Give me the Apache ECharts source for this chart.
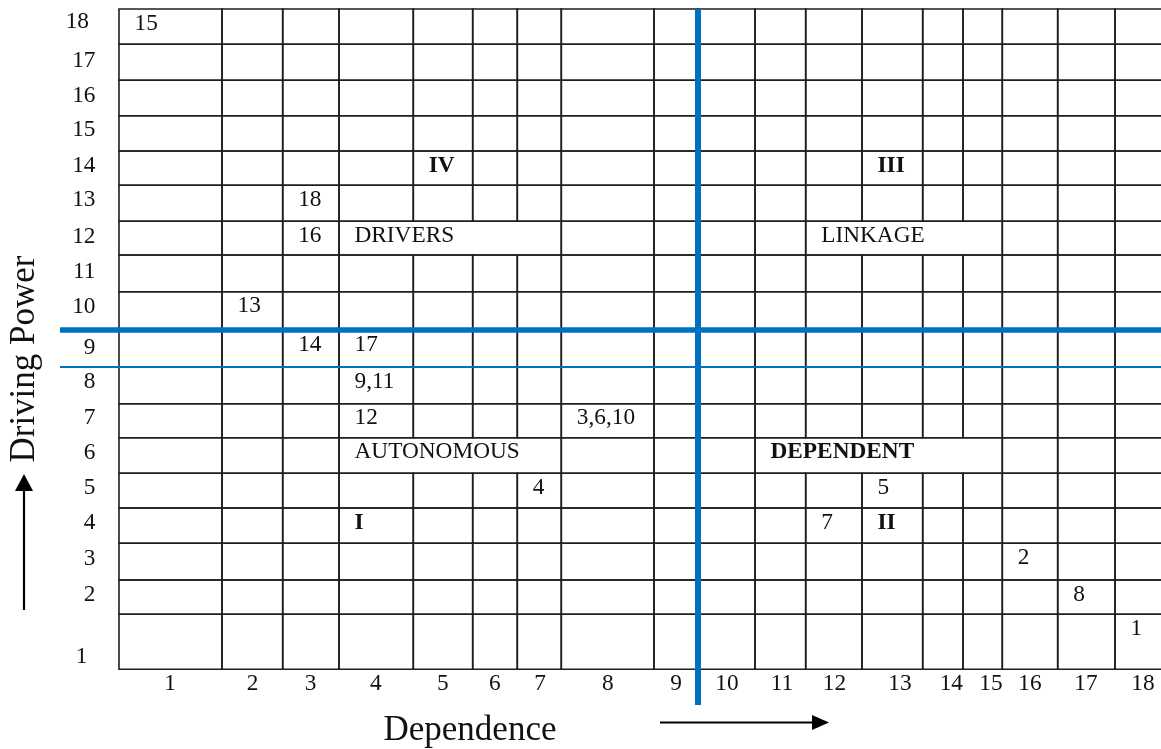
<!DOCTYPE html>
<html><head><meta charset="utf-8">
<script src="https://cdn.jsdelivr.net/npm/echarts@6/dist/echarts.min.js"></script>
<style>html,body{margin:0;padding:0;background:#fff}#c{width:1161px;height:749px}</style>
</head><body><div id="c"></div>
<script>
// ---------------- DATA ----------------
const dependenceTicks = ['1','2','3','4','5','6','7','8','9','10','11','12','13','14','15','16','17','18'];
const drivingTicks    = ['1','2','3','4','5','6','7','8','9','10','11','12','13','14','15','16','17','18'];

const variableLabels     = ['15','18','16','13','14','17','9,11','12','3,6,10','4','5','7','2','8','1'];
const variableDependence = [1, 3, 3, 2, 3, 4, 4, 4, 8, 7, 13, 12, 16, 17, 18];
const variableDriving    = [18, 13, 12, 10, 9, 9, 8, 7, 7, 5, 5, 4, 3, 2, 1];

const quadrantLabels     = ['IV', 'III', 'I', 'II'];
const quadrantDependence = [5, 13, 4, 13];
const quadrantDriving    = [14, 14, 4, 4];

const clusterLabels         = ['DRIVERS', 'LINKAGE', 'AUTONOMOUS', 'DEPENDENT'];
const clusterFromDependence = [4, 12, 4, 11];
const clusterToDependence   = [7, 15, 7, 15];
const clusterDriving        = [12, 12, 6, 6];

const dependenceThreshold = 9;
const drivingThreshold = 9;

const xTitle = 'Dependence';
const yTitle = 'Driving Power';

// ---------------- LAYOUT (pixels) ----------------
const COL_EDGES = [119, 222, 282.7, 339, 413.3, 472.7, 517.3, 561.3, 654, 698, 755, 805.7, 862, 922.7, 963, 1002.3, 1057.7, 1115, 1185];
const ROW_EDGES = [669.3, 614.3, 580, 543.3, 508, 473.3, 437.7, 403.7, 367, 330, 291.7, 255, 221.3, 185.3, 151, 115.7, 80.3, 44.3, 9];
const X_TICK_POS = [170, 252.5, 310.5, 375.8, 442.8, 494.7, 540, 607.8, 676, 727, 782, 834.5, 900, 951.3, 991, 1030, 1086, 1143];
const Y_TICK_POS = [656.7, 595, 559, 522.7, 488, 453, 418, 381.7, 348.3, 306.7, 271.7, 236.7, 200, 165.7, 130, 96, 60.7, 22];
const T_LEFT = 119, T_TOP = 9, T_W = 1042, T_H = 660.3;
const CELL_PAD_X = 15.5, CELL_PAD_Y = 14.5;
const DIVIDER_LEFT = 60, DIVIDER_BOTTOM = 705;
const FONT = 'Liberation Serif, Times New Roman, serif';
const FS = 23.3, TITLE_FS = 35;
const LINE = '#1e1e1e', BLUE = '#0070C0', TXT = '#111';

const xv = px => px - T_LEFT;
const yv = px => px - T_TOP;

// cells (merged ones from clusters)
const cells = [];
for (let r = 1; r <= 18; r++) {
  let c = 1;
  while (c <= 18) {
    let k = -1;
    for (let i = 0; i < clusterLabels.length; i++) {
      if (clusterDriving[i] === r && clusterFromDependence[i] === c) k = i;
    }
    if (k >= 0) { cells.push([c, clusterToDependence[k], r]); c = clusterToDependence[k] + 1; }
    else { cells.push([c, c, r]); c++; }
  }
}

const texts = [];
variableLabels.forEach((t, i) => texts.push([variableDependence[i], variableDriving[i], t, 'normal']));
quadrantLabels.forEach((t, i) => texts.push([quadrantDependence[i], quadrantDriving[i], t, 'bold']));
clusterLabels.forEach((t, i) => texts.push([clusterFromDependence[i], clusterDriving[i], t, i === 3 ? 'bold' : 'normal']));

function nearestIndex(arr, v) {
  let best = 0, d = Infinity;
  arr.forEach((a, i) => { const dd = Math.abs(a - v); if (dd < d) { d = dd; best = i; } });
  return best;
}

const chart = echarts.init(document.getElementById('c'), null, {renderer: 'canvas'});
chart.setOption({
  backgroundColor: '#fff',
  animation: false,
  grid: {left: T_LEFT, top: T_TOP, width: T_W, height: T_H},
  xAxis: {
    type: 'value', min: 0, max: T_W,
    axisLine: {show: false}, axisTick: {show: false}, splitLine: {show: false},
    axisLabel: {
      customValues: X_TICK_POS.map(xv),
      margin: 14.7, verticalAlign: 'middle',
      fontFamily: FONT, fontSize: FS, color: TXT,
      formatter: v => dependenceTicks[nearestIndex(X_TICK_POS.map(xv), v)]
    }
  },
  yAxis: {
    type: 'value', min: 0, max: T_H, inverse: true,
    axisLine: {show: false}, axisTick: {show: false}, splitLine: {show: false},
    axisLabel: {
      customValues: Y_TICK_POS.map(yv),
      margin: 23.5, align: 'right', verticalAlign: 'middle',
      fontFamily: FONT, fontSize: FS, color: TXT,
      formatter: v => {
        const i = nearestIndex(Y_TICK_POS.map(yv), v);
        const t = drivingTicks[i];
        if (t === '18') return '{a|' + t + '}';
        if (t === '1') return '{b|' + t + '}';
        return t;
      },
      rich: {
        a: {fontFamily: FONT, fontSize: FS, color: TXT, padding: [0, 6.5, 0, 0]},
        b: {fontFamily: FONT, fontSize: FS, color: TXT, padding: [0, 8, 0, 0]}
      }
    }
  },
  series: [
    {
      type: 'custom', name: 'cells', silent: true, clip: false, z: 1,
      data: cells,
      renderItem: (params, api) => {
        const c0 = api.value(0), c1 = api.value(1), r = api.value(2);
        const p0 = api.coord([xv(COL_EDGES[c0 - 1]), yv(ROW_EDGES[r])]);
        const p1 = api.coord([xv(COL_EDGES[c1]), yv(ROW_EDGES[r - 1])]);
        return {type: 'rect', shape: {x: p0[0], y: p0[1], width: p1[0] - p0[0], height: p1[1] - p0[1]},
                style: {fill: null, stroke: LINE, lineWidth: 1.6}};
      }
    },
    {
      type: 'custom', name: 'dividers', silent: true, clip: false, z: 2,
      data: [[dependenceThreshold, drivingThreshold]],
      renderItem: (params, api) => {
        const dx = COL_EDGES[api.value(0)];
        const hy = ROW_EDGES[api.value(1)];
        const hy2 = ROW_EDGES[api.value(1) - 1];
        const v1 = api.coord([xv(dx), yv(T_TOP)]), v2 = api.coord([xv(dx), yv(DIVIDER_BOTTOM)]);
        const h1 = api.coord([xv(DIVIDER_LEFT), yv(hy)]), h2 = api.coord([xv(1200), yv(hy)]);
        const t1 = api.coord([xv(DIVIDER_LEFT), yv(hy2)]), t2 = api.coord([xv(1200), yv(hy2)]);
        return {type: 'group', children: [
          {type: 'line', shape: {x1: t1[0], y1: t1[1], x2: t2[0], y2: t2[1]}, style: {stroke: BLUE, lineWidth: 1.8}},
          {type: 'line', shape: {x1: h1[0], y1: h1[1], x2: h2[0], y2: h2[1]}, style: {stroke: BLUE, lineWidth: 5.5}},
          {type: 'line', shape: {x1: v1[0], y1: v1[1], x2: v2[0], y2: v2[1]}, style: {stroke: BLUE, lineWidth: 6}}
        ]};
      }
    },
    {
      type: 'custom', name: 'labels', silent: true, clip: false, z: 3,
      data: texts,
      renderItem: (params, api) => {
        const d = texts[params.dataIndex];
        const p = api.coord([xv(COL_EDGES[d[0] - 1] + CELL_PAD_X), yv(ROW_EDGES[d[1]] + CELL_PAD_Y)]);
        return {type: 'text', x: p[0], y: p[1],
                style: {text: d[2], fill: TXT, fontFamily: FONT, fontSize: FS, fontWeight: d[3],
                        align: 'left', verticalAlign: 'middle'}};
      }
    }
  ],
  graphic: [
    {type: 'text', x: 470, y: 731, style: {text: xTitle, fill: TXT, fontFamily: FONT, fontSize: TITLE_FS, align: 'center', verticalAlign: 'middle'}},
    {type: 'text', x: 24.5, y: 359, rotation: Math.PI / 2, style: {text: yTitle, fill: TXT, fontFamily: FONT, fontSize: TITLE_FS, align: 'center', verticalAlign: 'middle'}},
    {type: 'line', shape: {x1: 24, y1: 610, x2: 24, y2: 489}, style: {stroke: '#000', lineWidth: 2.2}},
    {type: 'polygon', shape: {points: [[24, 474], [15, 491], [33, 491]]}, style: {fill: '#000'}},
    {type: 'line', shape: {x1: 660, y1: 722.5, x2: 814, y2: 722.5}, style: {stroke: '#000', lineWidth: 2.2}},
    {type: 'polygon', shape: {points: [[829, 722.5], [812, 715], [812, 730]]}, style: {fill: '#000'}}
  ]
});
</script>
</body></html>
